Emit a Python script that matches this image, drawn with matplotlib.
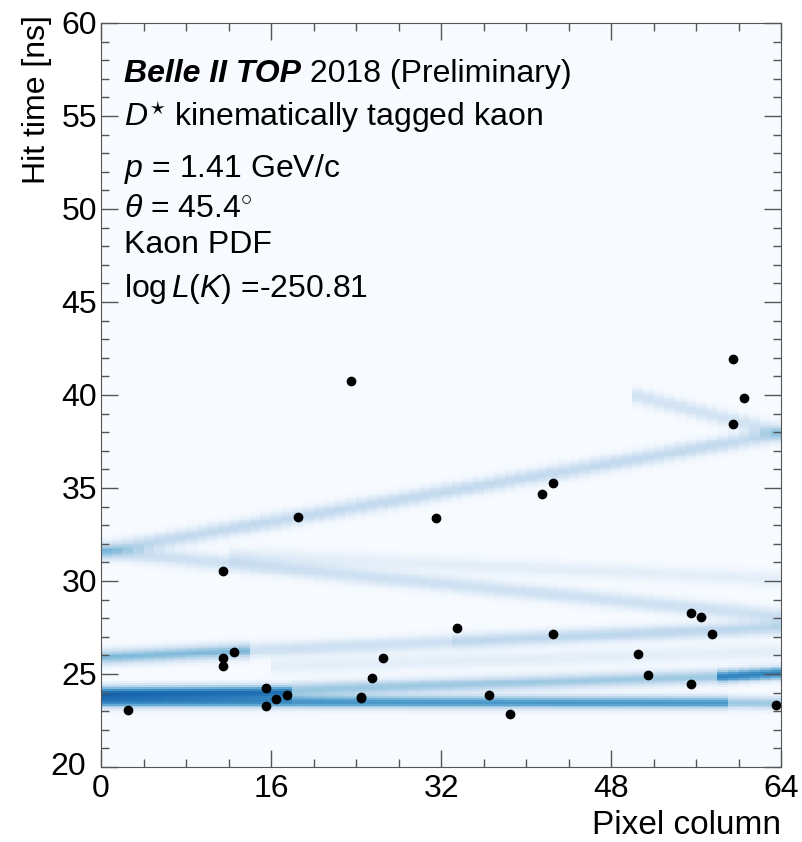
import numpy as np
import matplotlib
matplotlib.use("Agg")
import matplotlib.pyplot as plt
import matplotlib.transforms as mtransforms
from matplotlib.ticker import MultipleLocator, FuncFormatter

plt.rcParams['font.family'] = ['Liberation Sans', 'DejaVu Sans']
plt.rcParams['mathtext.fontset'] = 'custom'
plt.rcParams['mathtext.rm'] = 'Liberation Sans'
plt.rcParams['mathtext.it'] = 'Liberation Sans:italic'
plt.rcParams['mathtext.bf'] = 'Liberation Sans:bold'

# kaon PDF bands (column, time [ns])
band_x0 = [0, 0, 12, 50, 0, 14, 33, 16, 0, 18, 58, 0, 59]
band_x1 = [64, 64, 64, 64, 14, 33, 64, 64, 18, 58, 64, 59, 64]
band_t0 = [31.6, 31.6, 31.4, 40.0, 25.9, 26.25, 26.73, 25.4, 24.0, 24.15, 24.85, 23.5, 23.45]
band_t1 = [37.9, 28.1, 30.1, 38.0, 26.25, 26.73, 27.5, 26.2, 24.05, 24.85, 25.05, 23.45, 23.42]
band_w = [0.26, 0.21, 0.10, 0.19, 0.45, 0.21, 0.28, 0.10, 0.72, 0.38, 0.68, 0.60, 0.38]
band_sig = [0.3, 0.3, 0.3, 0.3, 0.28, 0.28, 0.28, 0.3, 0.25, 0.27, 0.25, 0.24, 0.24]

# observed photon hits
hit_col = [2.5, 11.5, 11.5, 11.5, 12.5, 15.5, 15.5, 16.5, 17.5, 18.5, 23.5,
           24.5, 24.5, 25.5, 26.5, 31.5, 33.5, 36.5, 38.5, 41.5, 42.5, 42.5,
           50.5, 51.5, 55.5, 55.5, 56.5, 57.5, 59.5, 59.5, 60.5, 63.5]
hit_time = [23.06, 30.55, 25.86, 25.45, 26.17, 24.26, 23.26, 23.66, 23.87, 33.46, 40.75,
            23.78, 23.70, 24.77, 25.86, 33.37, 27.46, 23.85, 22.85, 34.66, 35.25, 27.17,
            26.06, 24.96, 28.26, 24.46, 28.06, 27.17, 41.95, 38.46, 39.86, 23.35]

col_edges = np.arange(0, 65)
t_edges = np.arange(20, 60.01, 0.1)
t_mid = 0.5 * (t_edges[:-1] + t_edges[1:])

pdf = np.zeros((len(t_mid), 64))
for c in range(64):
    xc = c + 0.5
    for i in range(len(band_x0)):
        if band_x0[i] <= xc < band_x1[i]:
            f = (xc - band_x0[i]) / (band_x1[i] - band_x0[i])
            tc = band_t0[i] + (band_t1[i] - band_t0[i]) * f
            pdf[:, c] += band_w[i] * np.exp(-0.5 * ((t_mid - tc) / band_sig[i]) ** 2)

fig = plt.figure(figsize=(8.02, 8.42), dpi=100)
ax = fig.add_axes([0.126, 0.0891, 0.848, 0.8836])

ax.pcolormesh(col_edges, t_edges, pdf, cmap='Blues', vmin=0, vmax=1, shading='flat')
ax.plot(hit_col, hit_time, 'o', color='black', ms=6)

ax.set_xlim(0, 64)
ax.set_ylim(20, 60)
ax.xaxis.set_major_locator(MultipleLocator(16))
ax.xaxis.set_minor_locator(MultipleLocator(4))
ax.yaxis.set_major_locator(MultipleLocator(5))
ax.yaxis.set_minor_locator(MultipleLocator(1))
# bottom "20" drawn by hand below, a bit further left so it clears the "0"
ax.yaxis.set_major_formatter(FuncFormatter(lambda v, p: '' if v == 20 else '%d' % v))
ax.tick_params(which='both', direction='in', top=True, right=True, color='#555555')
ax.tick_params(which='major', length=12, width=1)
ax.tick_params(which='minor', length=6, width=1)
ax.tick_params(axis='x', labelsize=23, pad=5)
ax.tick_params(axis='y', labelsize=23, pad=3)
for sp in ax.spines.values():
    sp.set_color('#555555')

trans = mtransforms.blended_transform_factory(ax.transAxes, ax.transData)
ax.text(-0.022, 20, '20', transform=trans, fontsize=23, ha='right', va='center')

ax.set_xlabel('Pixel column', fontsize=24, loc='right')
ax.xaxis.set_label_coords(1.0, -0.058)
ax.set_ylabel('Hit time [ns]', fontsize=23, loc='top')
ax.yaxis.set_label_coords(-0.072, 1.01)

# text block
def yfrac(py):
    return 1 - (py - 23) / 744.0

tx = 0.034
fs = 23
t1 = ax.text(tx, yfrac(82), 'Belle II TOP', transform=ax.transAxes, fontsize=fs,
             fontweight='bold', fontstyle='italic', va='baseline')
ax.annotate(' 2018 (Preliminary)', xy=(1, 0), xycoords=t1, fontsize=fs, va='bottom')
ax.text(tx, yfrac(126), r'$D^{\star}$ kinematically tagged kaon', transform=ax.transAxes,
        fontsize=fs, va='baseline')
ax.text(tx, yfrac(177), r'$p$ = 1.41 GeV/c', transform=ax.transAxes, fontsize=fs, va='baseline')
ax.text(tx, yfrac(217), r'$\theta$ = 45.4$^{\circ}$', transform=ax.transAxes, fontsize=fs,
        va='baseline')
ax.text(tx, yfrac(253), 'Kaon PDF', transform=ax.transAxes, fontsize=fs, va='baseline')
ax.text(tx, yfrac(297), r'log$\,L(K)$ =-250.81', transform=ax.transAxes, fontsize=fs,
        va='baseline')

fig.savefig('out.png', dpi=100)
